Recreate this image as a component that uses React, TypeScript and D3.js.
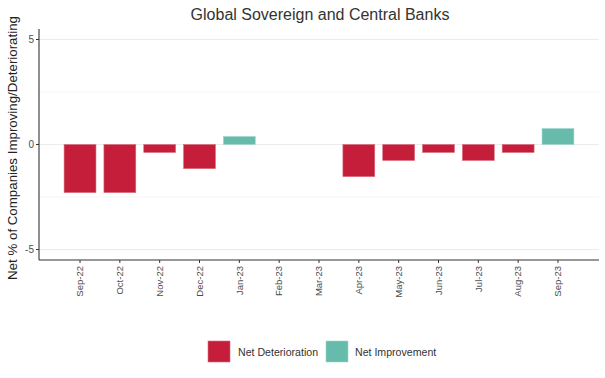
import React from "react";
import * as d3 from "d3";

const months = ["Sep-22","Oct-22","Nov-22","Dec-22","Jan-23","Feb-23","Mar-23","Apr-23","May-23","Jun-23","Jul-23","Aug-23","Sep-23"];
const netValues = [-2.29,-2.29,-0.38,-1.15,0.38,0,0,-1.53,-0.76,-0.38,-0.76,-0.38,0.76];
const yTicks = [-5, 0, 5];
const yMinor = [-2.5, 2.5];
const legendItems = ["Net Deterioration", "Net Improvement"];

const W = 605, H = 378;
const left = 39, right = 599, top = 29, bottom = 260;
const RED = "#C41E3A";
const TEAL = "#66BBAB";
const FONT = "Liberation Sans, Arial, sans-serif";

export default function App() {
  const x = d3.scalePoint<string>().domain(months).range([left, right]).padding(1.03);
  const y = d3.scaleLinear().domain([-5.5, 5.5]).range([bottom, top]);
  const bw = x.step() * 0.8;
  return (
    <svg width={W} height={H} style={{ position: "absolute", left: 0, top: 0, background: "#fff" }} fontFamily={FONT}>
      <text x={320} y={20} textAnchor="middle" fontSize={16} fill="#333">Global Sovereign and Central Banks</text>
      {yMinor.map(v => (
        <line key={"m" + v} x1={left} x2={right} y1={y(v)} y2={y(v)} stroke="#f2f2f2" strokeWidth={0.8} />
      ))}
      {yTicks.map(v => (
        <line key={"g" + v} x1={left} x2={right} y1={y(v)} y2={y(v)} stroke="#ebebeb" strokeWidth={1.2} />
      ))}
      {months.map((m, i) => {
        const v = netValues[i];
        if (v === 0) return null;
        const y0 = y(Math.max(0, v)), y1 = y(Math.min(0, v));
        return (
          <rect key={m} x={(x(m) as number) - bw / 2} y={y0} width={bw} height={y1 - y0}
            fill={v < 0 ? RED : TEAL} stroke={v < 0 ? "#d96a7c" : "#9fd6cc"} strokeWidth={0.6} />
        );
      })}
      <line x1={left} x2={left} y1={top} y2={bottom} stroke="#333" strokeWidth={1.1} />
      <line x1={left} x2={right} y1={bottom} y2={bottom} stroke="#333" strokeWidth={1.1} />
      {yTicks.map(v => (
        <g key={"t" + v}>
          <line x1={left - 3} x2={left} y1={y(v)} y2={y(v)} stroke="#333" strokeWidth={1} />
          <text x={left - 5} y={y(v)} dy="0.35em" textAnchor="end" fontSize={10} fill="#4d4d4d">{v}</text>
        </g>
      ))}
      {months.map(m => (
        <g key={"x" + m} transform={`translate(${x(m)},${bottom})`}>
          <line y1={0} y2={3} stroke="#333" strokeWidth={1} />
          <text transform="translate(0,6) rotate(-90)" textAnchor="end" dy="0.35em" fontSize={9.5} fill="#4d4d4d">{m}</text>
        </g>
      ))}
      <text transform={`translate(17,148) rotate(-90)`} textAnchor="middle" fontSize={13.3} fill="#222">Net % of Companies Improving/Deteriorating</text>
      <g>
        <rect x={208} y={341} width={22} height={21} fill={RED} stroke="#d96a7c" strokeWidth={0.6} />
        <text x={238} y={352} dy="0.35em" fontSize={10.6} fill="#333">{legendItems[0]}</text>
        <rect x={326} y={341} width={22} height={21} fill={TEAL} stroke="#9fd6cc" strokeWidth={0.6} />
        <text x={355} y={352} dy="0.35em" fontSize={10.6} fill="#333">{legendItems[1]}</text>
      </g>
    </svg>
  );
}
